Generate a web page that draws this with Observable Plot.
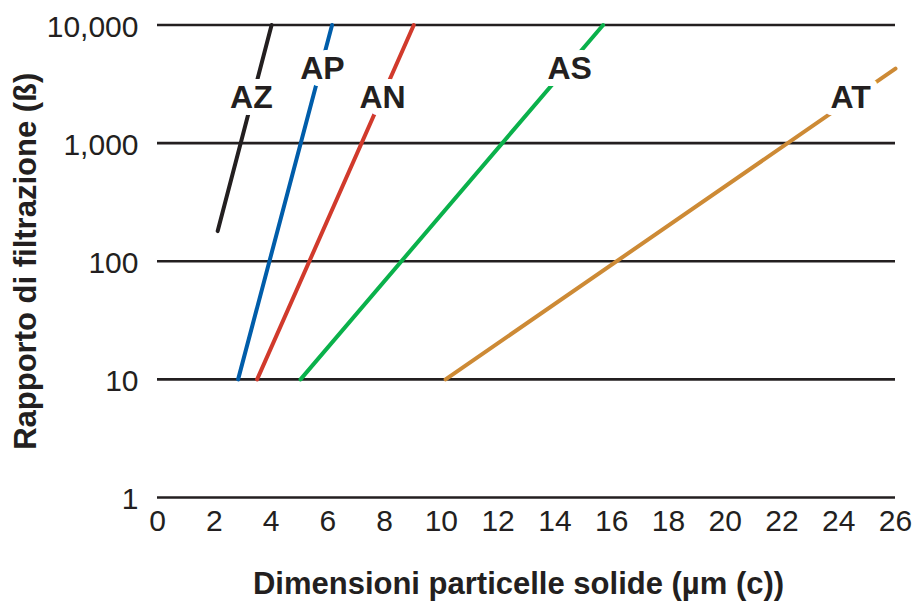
<!DOCTYPE html>
<html>
<head>
<meta charset="utf-8">
<script src="https://cdn.jsdelivr.net/npm/d3@7"></script>
<script src="https://cdn.jsdelivr.net/npm/@observablehq/plot@0.6"></script>
<style>
  html, body { margin: 0; padding: 0; background: #fff; }
  #chart { width: 923px; height: 601px; }
  svg { font-family: "Liberation Sans", Arial, Helvetica, sans-serif; }
</style>
</head>
<body>
<div id="chart"></div>
<script>
// Series (filter grades) — endpoints
const series = ["AZ", "AP", "AN", "AS", "AT"];
const colors = ["#231f20", "#005daa", "#d13a2c", "#0ab14b", "#cd8a35"];
const xStart = [2.12, 2.84, 3.51, 5.04, 10.15];
const yStart = [180, 10, 10, 10, 10];
const xEnd = [4.02, 6.15, 9.03, 15.70, 26];
const yEnd = [10000, 10000, 10000, 10000, 4270];

// Label positions
const labelX = [3.31, 5.81, 7.93, 14.52, 24.42];
const labelY = [2430, 4270, 2430, 4270, 2430];

// Ticks
const xTicks = [0, 2, 4, 6, 8, 10, 12, 14, 16, 18, 20, 22, 24, 26];
const yTicks = [1, 10, 100, 1000, 10000];

const xTitle = "Dimensioni particelle solide (µm (c))";
const yTitle = "Rapporto di filtrazione (ß)";

const lines = series.map((s, i) => ({
  name: s, x1: xStart[i], y1: yStart[i], x2: xEnd[i], y2: yEnd[i], color: colors[i]
}));
const labels = series.map((s, i) => ({ name: s, x: labelX[i], y: labelY[i] }));

const chart = Plot.plot({
  width: 923,
  height: 601,
  marginLeft: 157,
  marginRight: 28,
  marginTop: 24.5,
  marginBottom: 104,
  style: { fontFamily: "'Liberation Sans', Arial, Helvetica, sans-serif", background: "#fff" },
  x: { domain: [0, 26] },
  y: { type: "log", domain: [1, 10000] },
  marks: [
    Plot.ruleY(yTicks, { x1: 0, x2: 26, stroke: "#231f20", strokeWidth: 2.6 }),
    Plot.axisY({
      ticks: yTicks, tickFormat: d3.format(","), tickSize: 0, tickPadding: 19,
      fontSize: 30, label: null, dy: 2, fill: "#231f20"
    }),
    Plot.axisX({
      ticks: xTicks, tickFormat: d => String(d), tickSize: 0, tickPadding: 12,
      fontSize: 30, label: null, fill: "#231f20"
    }),
    Plot.link(lines, {
      x1: "x1", y1: "y1", x2: "x2", y2: "y2",
      stroke: "color", strokeWidth: 4, strokeLinecap: "round"
    }),
    Plot.text(labels, {
      x: "x", y: "y", text: "name", fontSize: 32, fontWeight: "bold",
      fill: "#231f20", stroke: "white", strokeWidth: 14, textAnchor: "middle", lineAnchor: "middle"
    }),
    Plot.text([xTitle], {
      frameAnchor: "bottom", dy: 87, dx: -8, fontSize: 31, fontWeight: "bold",
      fill: "#231f20", textAnchor: "middle", lineAnchor: "middle"
    }),
    Plot.text([yTitle], {
      frameAnchor: "left", dx: -131, rotate: -90, fontSize: 31, fontWeight: "bold",
      fill: "#231f20", textAnchor: "middle", lineAnchor: "middle"
    })
  ]
});
document.getElementById("chart").appendChild(chart);
</script>
</body>
</html>
